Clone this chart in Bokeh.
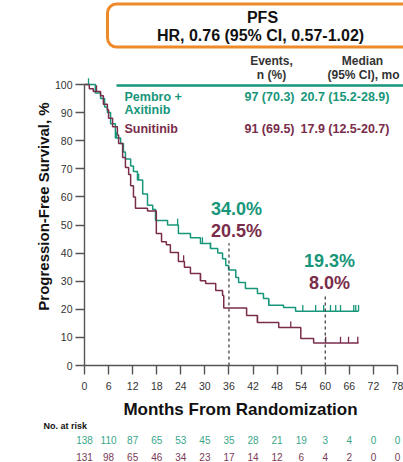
import math
from bokeh.plotting import figure
from bokeh.models import Range1d, BoxAnnotation, FixedTicker
from bokeh.core.properties import value
from bokeh.embed import file_html
from bokeh.resources import INLINE

# ---------------- data ----------------
month_ticks = [0, 6, 12, 18, 24, 30, 36, 42, 48, 54, 60, 66, 72, 78]
surv_ticks = [0, 10, 20, 30, 40, 50, 60, 70, 80, 90, 100]

# Kaplan-Meier step points (time in months, survival %)
pembro_t = [0, 2.7, 4.0, 5.0, 5.7, 6.5, 7.7, 9.0, 9.7, 10.2, 11.5, 12.2, 13.2, 14.5,
            15.7, 17.0, 17.7, 20.7, 23.4, 26.4, 28.9, 31.4, 33.2, 34.4, 35.2, 35.9,
            37.7, 38.4, 40.1, 43.1, 44.6, 45.9, 49.6, 52.6, 68.3]
pembro_s = [100, 97, 95, 92, 90, 86, 81, 79, 76, 73.5, 71, 69, 66, 61,
            57, 55.5, 51.6, 50, 47, 45.5, 43.4, 41.6, 40, 38, 35.6, 34.0,
            31.3, 29.5, 27.4, 25.6, 23.8, 21.4, 20.6, 19.3, 19.3]
pembro_cens = [1.0, 8.0, 13.5, 23.2, 29.4, 31.4, 45.9, 54.4, 57.6, 59.6, 61.3,
               62.6, 63.8, 67.1, 67.6, 68.3]

suni_t = [0, 1.2, 2.2, 4.0, 4.7, 5.7, 6.0, 7.0, 8.2, 8.5, 9.5, 10.2, 11.0, 11.5,
          12.2, 12.7, 15.7, 17.9, 19.2, 20.4, 21.4, 23.4, 24.9, 26.4, 28.9, 30.2,
          32.7, 34.4, 34.7, 40.4, 43.1, 48.4, 53.9, 57.1, 68.3]
suni_s = [100, 98.5, 97.5, 96, 93, 91, 88, 85, 82, 79, 74, 70.5, 68, 64,
          60, 56, 55, 47, 44, 43, 40.2, 37, 35, 32.7, 30.2, 29.2,
          26.7, 24.9, 20.5, 17.8, 15.3, 13.5, 9.6, 8.0, 8.0]
suni_cens = [3.0, 24.7, 28.9, 43.1, 51.4, 60.1, 63.8, 65.8, 68.1]

landmarks = [36, 60]
pembro_landmark = ["34.0%", "19.3%"]
suni_landmark = ["20.5%", "8.0%"]

risk_pembro = [138, 110, 87, 65, 53, 45, 35, 28, 21, 19, 3, 4, 0, 0]
risk_suni = [131, 98, 65, 46, 34, 23, 17, 14, 12, 6, 4, 2, 0, 0]

# ---------------- style ----------------
TEAL = "#17967a"
MAROON = "#7a2c4b"
ORANGE = "#ee8a2a"
INK = "#333333"
DARK = "#111111"
FONT = "Liberation Sans"

W, H = 403, 462
# pixel position of the plotting area (x: 0..78 months, y: 0..100 %)
PX0, PX1 = 84, 397
PY0, PY1 = 365, 84
XS = 78.0 / (PX1 - PX0)
YS = 100.0 / (PY0 - PY1)

p = figure(width=W, height=H, output_backend="svg", toolbar_location=None,
           x_range=Range1d(-PX0 * XS, (W - PX0) * XS),
           y_range=Range1d(-(H - PY0) * YS, PY0 * YS),
           min_border=0)
p.outline_line_color = None
p.xgrid.grid_line_color = None
p.ygrid.grid_line_color = None
p.background_fill_color = "white"
p.border_fill_color = "white"


def dx(px):
    return (px - PX0) * XS


def dy(py):
    return (PY0 - py) * YS


# ---------------- axes ----------------
for ax in (p.xaxis[0], p.yaxis[0]):
    ax.fixed_location = 0
    ax.axis_line_color = "#555555"
    ax.axis_line_width = 1.4
    ax.major_tick_line_color = "#555555"
    ax.major_tick_line_width = 1.4
    ax.major_tick_in = 0
    ax.major_tick_out = 9
    ax.minor_tick_line_color = None
    ax.major_label_text_font = FONT
    ax.major_label_text_font_size = "10.5px"
    ax.major_label_text_color = INK

p.xaxis.ticker = FixedTicker(ticks=month_ticks)
p.xaxis.bounds = (0, 78)
p.xaxis.major_label_standoff = 7
p.yaxis.ticker = FixedTicker(ticks=surv_ticks)
p.yaxis.bounds = (0, 100)
p.yaxis.major_label_standoff = 3


def txt(x, y, s, color, size="12px", align="left", bold=True, angle=0.0):
    p.text(x=[x], y=[y], text=[s], text_align=align, text_baseline="middle",
           text_font=value(FONT), text_font_style="bold" if bold else "normal",
           text_font_size=size, text_color=color, angle=angle)


# ---------------- header box (drawn beneath the text) ----------------
p.add_layout(BoxAnnotation(left=dx(107), right=dx(420), top=dy(3.5), bottom=dy(46.5),
                           fill_color=None, line_color=ORANGE, line_alpha=1.0,
                           line_width=3, border_radius=9, level="underlay"))
txt(dx(262), dy(17), "PFS", DARK, size="16px", align="center")
txt(dx(260), dy(35), "HR, 0.76 (95% CI, 0.57-1.02)", DARK, size="16px", align="center")

txt(dx(240), dy(409), "Months From Randomization", DARK, size="17px", align="center")
txt(dx(43), dy(206), "Progression-Free Survival, %", DARK, size="15px",
    align="center", angle=math.pi / 2)

# ---------------- curves ----------------
p.step(pembro_t, pembro_s, mode="after", line_color=TEAL, line_width=1.5)
p.step(suni_t, suni_s, mode="after", line_color=MAROON, line_width=1.5)


def surv_at(ts, ss, t):
    val = ss[0]
    for ti, si in zip(ts, ss):
        if ti <= t:
            val = si
    return val


pc_y = [surv_at(pembro_t, pembro_s, t) for t in pembro_cens]
sc_y = [surv_at(suni_t, suni_s, t) for t in suni_cens]
p.segment(x0=pembro_cens, y0=pc_y, x1=pembro_cens, y1=[v + 2.2 for v in pc_y],
          line_color=TEAL, line_width=1.3)
p.segment(x0=suni_cens, y0=sc_y, x1=suni_cens, y1=[v + 2.2 for v in sc_y],
          line_color=MAROON, line_width=1.3)

# landmark dashed lines
p.segment(x0=landmarks, y0=[0, 0], x1=landmarks, y1=[43.5, 25.0],
          line_color="#444444", line_width=1.3, line_dash="3 3")

# landmark labels
lab_x = [dx(236), dx(329)]
lab_y_top = [dy(208), dy(260)]
lab_y_bot = [dy(230), dy(282)]
for i in range(2):
    txt(lab_x[i], lab_y_top[i], pembro_landmark[i], TEAL, size="18px", align="center")
    txt(lab_x[i], lab_y_bot[i], suni_landmark[i], MAROON, size="18px", align="center")

# ---------------- summary table ----------------
txt(dx(271), dy(60), "Events,", INK, align="center")
txt(dx(271), dy(74), "n (%)", INK, align="center")
txt(dx(362), dy(60), "Median", INK, align="center")
txt(dx(363), dy(74), "(95% CI), mo", INK, align="center")
p.segment(x0=[dx(116)], y0=[dy(85)], x1=[dx(410)], y1=[dy(85)],
          line_color=TEAL, line_width=2.5)

txt(dx(124), dy(96), "Pembro +", TEAL, size="12.5px")
txt(dx(124), dy(109), "Axitinib", TEAL, size="12.5px")
txt(dx(269), dy(96), "97 (70.3)", TEAL, size="12.5px", align="center")
txt(dx(300), dy(96), "20.7 (15.2-28.9)", TEAL, size="12.5px")

txt(dx(124), dy(128), "Sunitinib", MAROON, size="12.5px")
txt(dx(269), dy(128), "91 (69.5)", MAROON, size="12.5px", align="center")
txt(dx(300), dy(128), "17.9 (12.5-20.7)", MAROON, size="12.5px")

# ---------------- numbers at risk ----------------
txt(dx(43), dy(425), "No. at risk", DARK, size="9px")
p.text(x=month_ticks, y=[dy(439)] * len(month_ticks), text=[str(v) for v in risk_pembro],
       text_align="center", text_baseline="middle", text_font=value(FONT),
       text_font_size="10px", text_color="#3aa688")
p.text(x=month_ticks, y=[dy(456)] * len(month_ticks), text=[str(v) for v in risk_suni],
       text_align="center", text_baseline="middle", text_font=value(FONT),
       text_font_size="10px", text_color="#7a3a56")

open("out.html", "w").write(file_html(p, INLINE))
